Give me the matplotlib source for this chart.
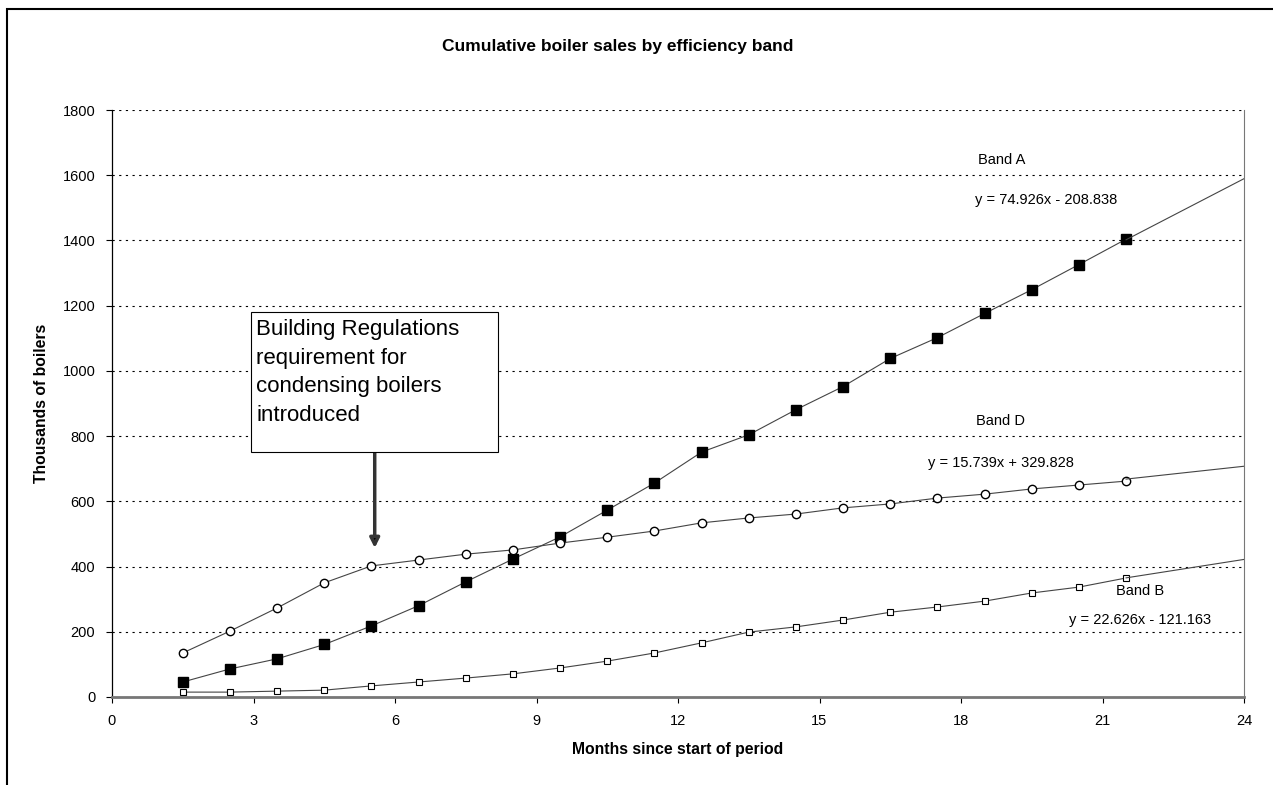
import matplotlib
matplotlib.use('Agg')
from matplotlib import pyplot as plt
from matplotlib.patches import Rectangle

plt.rcParams['font.family'] = ['Liberation Sans', 'DejaVu Sans']

months = [1.5, 2.5, 3.5, 4.5, 5.5, 6.5, 7.5, 8.5, 9.5, 10.5, 11.5,
          12.5, 13.5, 14.5, 15.5, 16.5, 17.5, 18.5, 19.5, 20.5, 21.5]
band_a = [46, 86, 117, 161, 218, 280, 353, 423, 491, 573, 656,
          751, 804, 881, 952, 1038, 1102, 1176, 1249, 1326, 1404]
band_d = [135, 202, 273, 350, 402, 420, 438, 451, 472, 490, 509,
          534, 549, 561, 580, 592, 610, 622, 638, 650, 662]
band_b = [15, 15, 18, 21, 34, 46, 58, 71, 89, 110, 135,
          166, 199, 215, 236, 260, 276, 294, 319, 337, 365]

# linear trend coefficients shown on the chart
trend_a = (74.926, -208.838)
trend_d = (15.739, 329.828)
trend_b = (22.626, -121.163)

fig = plt.figure(figsize=(12.73, 7.85), dpi=100)
ax = fig.add_axes([112 / 1273, 1 - 697 / 785, (1244 - 112) / 1273, (697 - 110) / 785])

line_kw = dict(color='#444444', lw=0.8, zorder=2)
ax.plot(months, band_a, marker='s', ms=6.5, mfc='black', mec='black', **line_kw)
ax.plot(months, band_d, marker='o', ms=6, mfc='white', mec='black', mew=1.0, **line_kw)
ax.plot(months, band_b, marker='s', ms=4.5, mfc='white', mec='black', mew=0.8, **line_kw)

# trendlines carried forward to the end of the axis
for (m, c) in (trend_a, trend_d, trend_b):
    xs = [months[-1], 24]
    ax.plot(xs, [m * x + c for x in xs], color='#444444', lw=0.8, zorder=2)

ax.set_xlim(0, 24)
ax.set_ylim(0, 1800)
ax.set_xticks(range(0, 25, 3))
ax.set_yticks(range(0, 1801, 200))
ax.tick_params(labelsize=10.5, length=4, width=0.8, direction='out', pad=8)
ax.yaxis.grid(True, linestyle=(0, (2, 4)), color='black', lw=0.8)
ax.set_axisbelow(True)

ax.spines['top'].set_visible(False)
ax.spines['right'].set_color('#777777')
ax.spines['right'].set_linewidth(0.8)
ax.spines['left'].set_color('black')
ax.spines['left'].set_linewidth(0.9)
ax.spines['bottom'].set_color('#777777')
ax.spines['bottom'].set_linewidth(2)

ax.set_xlabel('Months since start of period', fontsize=11.3, fontweight='bold', labelpad=10)
ax.set_ylabel('Thousands of boilers', fontsize=11.3, fontweight='bold', labelpad=10)
fig.text(618 / 1273, 1 - 47 / 785, 'Cumulative boiler sales by efficiency band',
         ha='center', va='center', fontsize=12.5, fontweight='bold')

lab = dict(ha='center', va='center', fontsize=10.5)
ax.text(18.87, 1647, 'Band A', **lab)
ax.text(19.8, 1524, 'y = 74.926x - 208.838', **lab)
ax.text(18.84, 846, 'Band D', **lab)
ax.text(18.84, 717, 'y = 15.739x + 329.828', **lab)
ax.text(21.8, 325, 'Band B', **lab)
ax.text(21.8, 236, 'y = 22.626x - 121.163', **lab)

# annotation box with arrow
ax.annotate('', xy=(5.57, 457), xytext=(5.57, 837),
            arrowprops=dict(arrowstyle='-|>', color='#555555', lw=2.5,
                            mutation_scale=14, shrinkA=0, shrinkB=0,
                            fc='black', ec='#333333'))
fig.patches.append(Rectangle((251 / 1273, 1 - 452 / 785), (498 - 251) / 1273, (452 - 312) / 785,
                             transform=fig.transFigure, fill=True, fc='white',
                             ec='black', lw=0.8, zorder=5))
fig.text(256 / 1273, 1 - 319 / 785,
         'Building Regulations\nrequirement for\ncondensing boilers\nintroduced',
         ha='left', va='top', fontsize=16, linespacing=1.47, zorder=6)

# outer frame
fig.patches.append(Rectangle((7 / 1273, -0.1), 1.2, 1 - 9 / 785 + 0.1,
                             transform=fig.transFigure, fill=False, ec='black', lw=1.5))

plt.savefig('out.png', dpi=100)
